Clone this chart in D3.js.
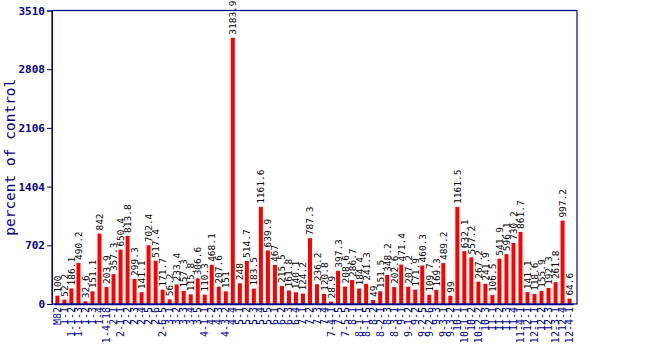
<!DOCTYPE html>
<html><head><meta charset="utf-8">
<script src="https://cdn.jsdelivr.net/npm/d3@7"></script>
<style>body{margin:0;background:#fff}</style>
</head><body>
<script>
const categories = ["M82","1-1","1-1-2","1-1-3","1-2","1-3","1-4","1-4-18","2-1","2-1-1","2-2","2-3","2-4","2-5","2-6","2-6-5","3-1","3-2","3-3","3-4","3-5","4-1-1","4-2","4-3","4-3-2","4-4","5-1","5-2","5-3","5-4","5-5","6-1","6-2","6-3","6-4","7-1","7-2","7-3","7-4","7-4-1","7-5","7-5-5","8-1","8-1-1","8-1-5","8-2","8-2-1","8-3","8-3-1","9-1","9-1-2","9-2","9-2-5","9-2-6","9-3","9-3-1","9-3-2","10-1","10-1-1","10-2","10-2-2","10-3","11-1","11-2","11-3","11-4","11-4-1","12-1","12-1-1","12-2","12-3","12-3-1","12-4","12-4-1"];
const values = [100,52.2,186.1,490.2,32.6,151.1,842,203.9,357.3,650.4,813.8,299.3,141.1,702.4,517.4,171.7,56.2,233.4,157.3,115.8,306.6,110.3,468.1,207.6,151,3183.9,248,514.7,183.5,1161.6,639.9,467,215.5,161.8,140.1,124.2,787.3,236.2,120.8,28.9,397.3,208.6,286.7,184.4,241.3,49,151.5,348.2,202.6,471.4,207.2,171.9,460.3,109.7,169.3,489.2,99,1161.5,632.1,557.2,267.2,241.9,106.5,541.9,596.1,730.2,861.7,141.1,118.6,155.9,192.3,261.8,997.2,64.6];
const yTicks = [0,702,1404,2106,2808,3510];
const yLabel = "percent of control";

const W=650,H=350, L=52, R=577, T=10.5, B=304;
const navy="#00008b";
const svg=d3.select("body").append("svg").attr("width",W).attr("height",H);
const x=d3.scaleBand().domain(categories).range([L+2,R-4]).paddingInner(0.43).paddingOuter(0.2);
const y=d3.scaleLinear().domain([0,3510]).range([B,T]);

svg.append("g").selectAll("rect").data(values).join("rect")
  .attr("x",(d,i)=>x(categories[i]))
  .attr("width",x.bandwidth())
  .attr("y",d=>y(d)).attr("height",d=>B-y(d)).attr("fill","#ff0000");

svg.append("g").selectAll("text").data(values).join("text")
  .attr("transform",(d,i)=>`translate(${x(categories[i])+x.bandwidth()/2+3.5},${y(d)-3}) rotate(-90)`)
  .attr("font-family","DejaVu Sans Mono").attr("font-size",9.5).attr("fill","#000")
  .text(d=>d);

svg.append("rect").attr("x",L).attr("y",T).attr("width",R-L).attr("height",B-T)
  .attr("fill","none").attr("stroke",navy).attr("stroke-width",1.2);

const ya=svg.append("g").attr("transform",`translate(${L},0)`)
  .call(d3.axisLeft(y).tickValues(yTicks).tickFormat(d3.format("d")).tickSize(5).tickPadding(2));
ya.select(".domain").attr("stroke",navy);
ya.selectAll("line").attr("stroke",navy);
ya.selectAll("text").attr("fill",navy).attr("font-family","DejaVu Sans Mono").attr("font-weight","bold").attr("font-size",11);

const xa=svg.append("g").attr("transform",`translate(0,${B})`)
  .call(d3.axisBottom(x).tickSize(0).tickPadding(0));
xa.select(".domain").attr("stroke",navy).attr("stroke-width",1.5);
xa.selectAll("text").attr("fill",navy).attr("font-family","DejaVu Sans Mono").attr("font-size",10)
  .attr("text-anchor","end").attr("dy",null)
  .attr("transform","translate(3.5,3) rotate(-90)");

svg.append("text").attr("transform",`translate(15,${(T+B)/2}) rotate(-90)`)
  .attr("text-anchor","middle").attr("fill",navy).attr("font-family","DejaVu Sans Mono")
  .attr("font-size",14.5).text(yLabel);
</script>
</body></html>
